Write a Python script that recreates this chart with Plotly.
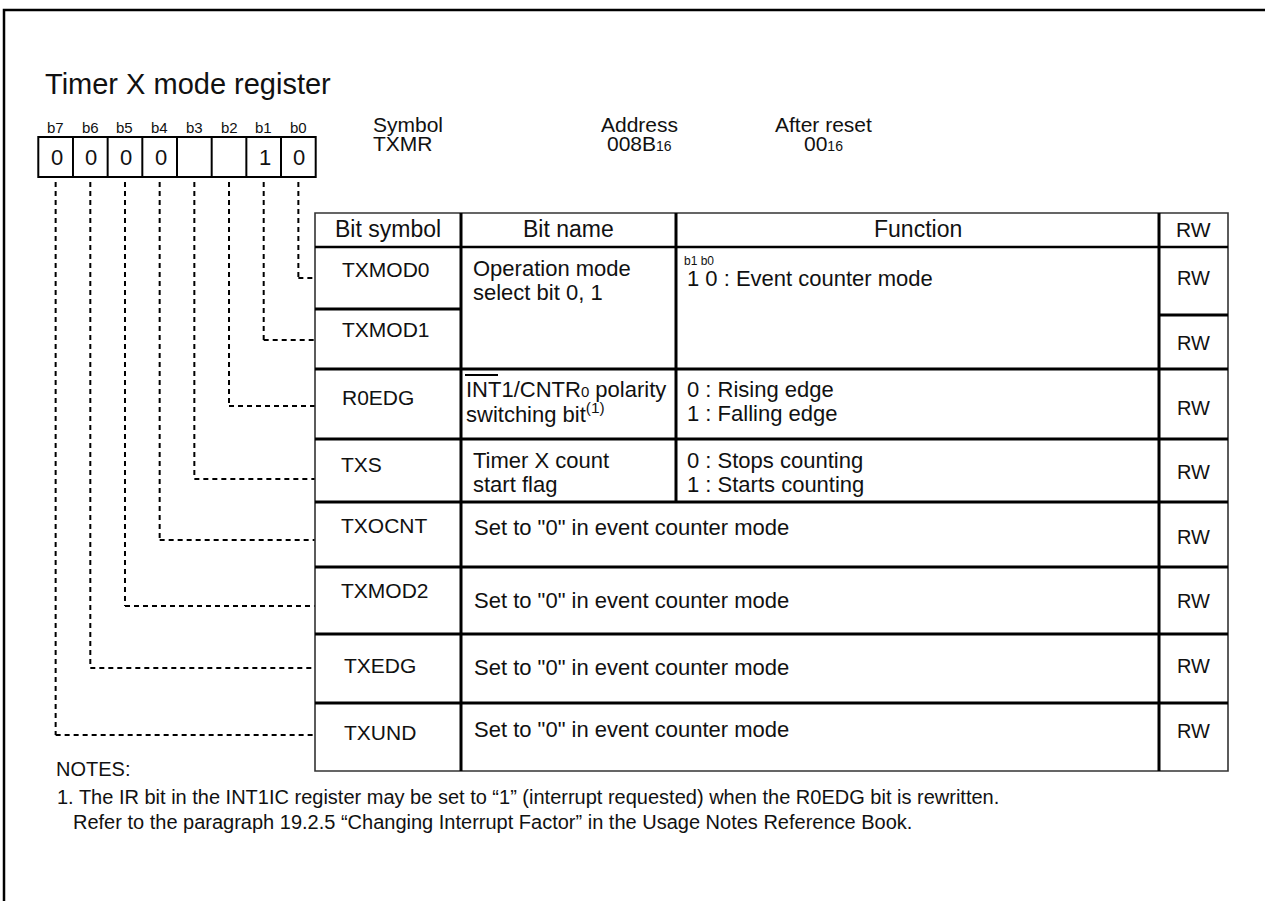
import plotly.graph_objects as go

# ---------------- data (texts) ----------------
title = "Timer X mode register"
bit_labels = ["b7", "b6", "b5", "b4", "b3", "b2", "b1", "b0"]
bit_values = ["0", "0", "0", "0", "", "", "1", "0"]
info_heads = ["Symbol", "Address", "After reset"]
info_values = ["TXMR", "008B<span style='font-size:14px'>16</span>", "00<span style='font-size:14px'>16</span>"]
header = ["Bit symbol", "Bit name", "Function", "RW"]
bit_symbols = ["TXMOD0", "TXMOD1", "R0EDG", "TXS", "TXOCNT", "TXMOD2", "TXEDG", "TXUND"]
bit_names = [
    ["Operation mode", "select bit 0, 1"],
    [],
    ["INT1/CNTR<span style='font-size:15px'>0</span> polarity", "switching bit<sup>(1)</sup>"],
    ["Timer X count", "start flag"],
]
functions = [
    ["1 0 : Event counter mode"],
    [],
    ["0 : Rising edge", "1 : Falling edge"],
    ["0 : Stops counting", "1 : Starts counting"],
]
func_prefix = "b1 b0"
reserved_text = 'Set to "0" in event counter mode'
rw = ["RW"] * 8
notes_head = "NOTES:"
notes = [
    "1. The IR bit in the INT1IC register may be set to \u201c1\u201d (interrupt requested) when the R0EDG bit is rewritten.",
    "Refer to the paragraph 19.2.5 \u201cChanging Interrupt Factor\u201d in the Usage Notes Reference Book.",
]

# ---------------- layout constants (pixels) ----------------
W, H = 1265, 901
FONT = "Liberation Sans, Arial, sans-serif"
INK = "#111111"

box_x0, box_x1, box_y0, box_y1 = 38.3, 315.7, 137, 177
cell_w = (box_x1 - box_x0) / 8

tx0, tx1 = 315, 1228
col1, col2, col3 = 461, 676, 1159
ty_top, ty_head = 213, 247
sym_bounds = [247, 309, 369, 439, 502, 567, 634, 703, 771]
rw_bounds = [247, 315, 369, 439, 502, 567, 634, 703, 771]

sym_text_y = [269, 329, 397, 464, 525, 590, 665, 732]
sym_text_x = [341, 341, 341, 340, 340, 340, 343, 343]
rw_text_y = [278, 343, 408, 472, 537, 601, 666, 731]
reserved_y = [527, 600, 667, 729]
name_y = [[268, 292], [], [389, 413], [460, 484]]
name_x = [471.7, 0, 465, 471.7]
func_y = [[278], [], [389, 413], [460, 484]]
func_x = 686
conn_y = [278, 340, 406, 479, 540, 606, 668, 735]   # for b0 .. b7

fig = go.Figure()
fig.update_layout(
    width=W, height=H, margin=dict(l=0, r=0, t=0, b=0),
    paper_bgcolor="white", plot_bgcolor="white", showlegend=False,
    xaxis=dict(range=[0, W], visible=False, fixedrange=True),
    yaxis=dict(range=[H, 0], visible=False, fixedrange=True),
)

def line(x0, y0, x1, y1, width=3, color="black", dash=None):
    d = dict(color=color, width=width)
    if dash:
        d["dash"] = dash
    fig.add_shape(type="line", x0=x0, y0=y0, x1=x1, y1=y1, xref="x", yref="y", line=d)

def txt(x, y, s, size=22, anchor="left"):
    fig.add_annotation(x=x, y=y, xref="x", yref="y", text=s, showarrow=False,
                       xanchor=anchor, yanchor="middle", borderpad=0,
                       font=dict(family=FONT, size=size, color=INK))

# outer page border
fig.add_shape(type="rect", x0=4, y0=10, x1=W + 20, y1=H + 20, xref="x", yref="y",
              line=dict(color="black", width=2.5))

# title
txt(44, 84, title, size=29)

# bit labels and register box
for i, (lab, val) in enumerate(zip(bit_labels, bit_values)):
    cx = box_x0 + cell_w * (i + 0.5)
    txt(cx, 127, lab, size=15, anchor="center")
    if val:
        txt(cx + 1, 157, val, size=22, anchor="center")
fig.add_shape(type="rect", x0=box_x0, y0=box_y0, x1=box_x1, y1=box_y1, xref="x", yref="y",
              line=dict(color="black", width=2))
for i in range(1, 8):
    x = box_x0 + cell_w * i
    line(x, box_y0, x, box_y1, width=2)

# symbol / address / after reset
txt(371.7, 124, info_heads[0], size=21)
txt(371.7, 143, info_values[0], size=21)
txt(639, 124, info_heads[1], size=21, anchor="center")
txt(639, 143, info_values[1], size=21, anchor="center")
txt(823, 124, info_heads[2], size=21, anchor="center")
txt(823, 143, info_values[2], size=21, anchor="center")

# dashed connectors (b0 at right)
for k in range(8):
    i = 7 - k  # cell index
    cx = box_x0 + cell_w * (i + 0.5)
    yy = conn_y[k]
    line(cx, 182, cx, yy, width=2, dash="5px,4px")
    line(cx, yy, tx0, yy, width=2, dash="5px,4px")

# table grid
fig.add_shape(type="rect", x0=tx0, y0=ty_top, x1=tx1, y1=sym_bounds[-1], xref="x", yref="y",
              line=dict(color="#333333", width=1.6))
line(col1, ty_top, col1, sym_bounds[-1])
line(col2, ty_top, col2, sym_bounds[4])
line(col3, ty_top, col3, sym_bounds[-1])
line(tx0, ty_head, tx1, ty_head, width=2.5)
line(tx0, sym_bounds[1], col1, sym_bounds[1])
line(col3, rw_bounds[1], tx1, rw_bounds[1])
for yb in sym_bounds[2:-1]:
    line(tx0, yb, tx1, yb)

# header texts
txt((tx0 + col1) / 2, 229, header[0], size=23, anchor="center")
txt((col1 + col2) / 2, 229, header[1], size=23, anchor="center")
txt((col2 + col3) / 2, 229, header[2], size=23, anchor="center")
txt((col3 + tx1) / 2, 229, header[3], size=21, anchor="center")

# rows
for r, sym in enumerate(bit_symbols):
    txt(sym_text_x[r], sym_text_y[r], sym, size=21)
    txt((col3 + tx1) / 2, rw_text_y[r], rw[r], size=20, anchor="center")
for r in range(4):
    for s, yy in zip(bit_names[r], name_y[r]):
        txt(name_x[r], yy, s, size=22)
    for s, yy in zip(functions[r], func_y[r]):
        txt(func_x, yy, s, size=22)
txt(683, 261, func_prefix, size=12)
# overline above INT
line(465, 375, 498, 375, width=2)
for r, yy in enumerate(reserved_y):
    txt(473, yy, reserved_text, size=22)

# notes
txt(55, 769, notes_head, size=20)
txt(56, 797, notes[0], size=20)
txt(71.7, 822, notes[1], size=20)

fig.write_html(
    "out.html",
    config={"displayModeBar": False, "staticPlot": True},
    post_script="document.body.style.margin='0px';document.body.style.overflow='hidden';",
)
